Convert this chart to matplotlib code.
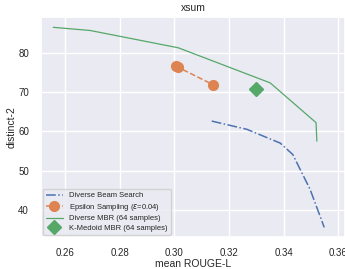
import matplotlib
matplotlib.use('Agg')
import matplotlib.pyplot as plt
import seaborn as sns

sns.set_theme(style='darkgrid')
plt.rcParams['font.family'] = ['Liberation Sans', 'DejaVu Sans']

# diverse beam search
dbs_rouge = [0.3137, 0.3266, 0.3388, 0.3434, 0.3461, 0.3497, 0.3549]
dbs_distinct = [62.6, 60.5, 57.0, 54.1, 50.3, 45.3, 35.6]

# epsilon sampling
eps_rouge = [0.3005, 0.3013, 0.3143]
eps_distinct = [76.6, 76.3, 71.8]

# diverse MBR
dmbr_rouge = [0.2557, 0.2692, 0.3015, 0.3351, 0.3519, 0.3522]
dmbr_distinct = [86.4, 85.6, 81.2, 72.3, 62.2, 57.5]

# k-medoid MBR
kmbr_rouge = [0.3300]
kmbr_distinct = [70.7]

xticks = [0.26, 0.28, 0.30, 0.32, 0.34, 0.36]
yticks = [40, 50, 60, 70, 80]

c = sns.color_palette('deep')

fig = plt.figure(figsize=(3.45, 2.69), dpi=100)
ax = fig.add_axes([0.118, 0.118, 0.882, 0.817])

ax.plot(dbs_rouge, dbs_distinct, linestyle='-.', color=c[0], linewidth=1.1,
        label='Diverse Beam Search')
ax.plot(eps_rouge, eps_distinct, linestyle='--', marker='o', markersize=7,
        color=c[1], linewidth=1.1, label=r'Epsilon Sampling ($\epsilon$=0.04)')
ax.plot(dmbr_rouge, dmbr_distinct, linestyle='-', color=c[2], linewidth=0.9,
        label='Diverse MBR (64 samples)')
ax.plot(kmbr_rouge, kmbr_distinct, linestyle='none', marker='D', markersize=7.5,
        color=c[2], label='K-Medoid MBR (64 samples)')

ax.set_xlim(0.2511, 0.3625)
ax.set_ylim(33.1, 88.9)
ax.set_xticks(xticks)
ax.set_xticklabels(['%.2f' % t for t in xticks])
ax.set_yticks(yticks)
ax.tick_params(axis='x', labelsize=7, pad=1.5)
ax.tick_params(axis='y', labelsize=7, pad=2.5)

ax.set_title('xsum', fontsize=7.5, pad=5)
ax.set_xlabel('mean ROUGE-L', fontsize=7.5, labelpad=1)
ax.set_ylabel('distinct-2', fontsize=7.5, labelpad=1)

ax.legend(loc='lower left', fontsize=5.5, borderaxespad=0.3, handlelength=2.2,
          labelspacing=0.3, borderpad=0.4)

plt.savefig('out.png', dpi=100)
